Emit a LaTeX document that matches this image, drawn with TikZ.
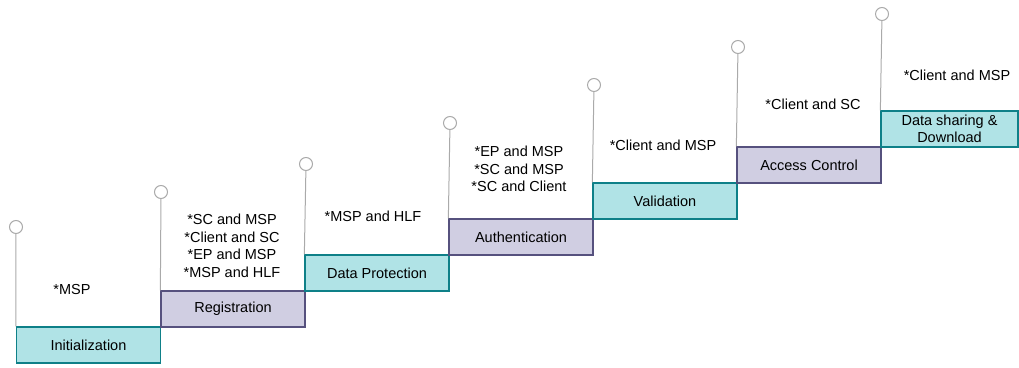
\documentclass[tikz,border=0pt]{standalone}
\usepackage{fontspec}
\setmainfont{Liberation Sans}
\usepackage{xcolor}
\definecolor{stteal}{RGB}{176,227,230}
\definecolor{stteald}{RGB}{14,128,136}
\definecolor{stpurple}{RGB}{208,206,226}
\definecolor{stpurpled}{RGB}{86,81,126}
\definecolor{stgray}{RGB}{170,170,170}
\usetikzlibrary{positioning}
\tikzset{
  stepbox/.style={draw=#1d, fill=#1, line width=1.3pt, font=\fontsize{14.5}{17}\selectfont,
                  minimum width=144pt, minimum height=36pt, inner sep=0pt, align=center},
  pin/.style={draw=stgray, fill=white, circle, line width=1pt, minimum size=13pt, inner sep=0pt},
  stem/.style={draw=stgray, line width=1pt},
  note/.style={font=\fontsize{14.5}{17.5}\selectfont, align=center, inner sep=0pt},
}
\begin{document}
\begin{tikzpicture}[x=1pt, y=-1pt]
\useasboundingbox (0,0) rectangle (1019,367);

% Steps
\node[stepbox=stteal]   (init) at (88.5,345)  {Initialization};
\node[stepbox=stpurple] (reg)  at (233,309)   {Registration};
\node[stepbox=stteal]   (prot) at (377,273)   {Data Protection};
\node[stepbox=stpurple] (auth) at (521,237)   {Authentication};
\node[stepbox=stteal]   (val)  at (665,201)   {Validation};
\node[stepbox=stpurple] (acc)  at (809,165)   {Access Control};
\node[stepbox=stteal, minimum width=137pt] (share) at (949.5,129) {Data sharing \&\\Download};

% Pins
\node[pin] (p1) at (16,227)  {};
\node[pin] (p2) at (161,192) {};
\node[pin] (p3) at (306,164) {};
\node[pin] (p4) at (450,123) {};
\node[pin] (p5) at (594,85)  {};
\node[pin] (p6) at (738,47)  {};
\node[pin] (p7) at (882,14)  {};

\draw[stem] (init.north west) -- (p1);
\draw[stem] (reg.north west)  -- (p2);
\draw[stem] (prot.north west) -- (p3);
\draw[stem] (auth.north west) -- (p4);
\draw[stem] (val.north west)  -- (p5);
\draw[stem] (acc.north west)  -- (p6);
\draw[stem] (share.north west) -- (p7);

% Parties
\node[note] (n1) at (72,290)  {*MSP};
\node[note] (n2) at (232,246) {*SC and MSP\\*Client and SC\\*EP and MSP\\*MSP and HLF};
\node[note] (n3) at (373,216) {*MSP and HLF};
\node[note] (n4) at (519,169) {*EP and MSP\\*SC and MSP\\*SC and Client};
\node[note] (n5) at (663,145) {*Client and MSP};
\node[note] (n6) at (813,104) {*Client and SC};
\node[note] (n7) at (957,75)  {*Client and MSP};

\end{tikzpicture}
\end{document}
